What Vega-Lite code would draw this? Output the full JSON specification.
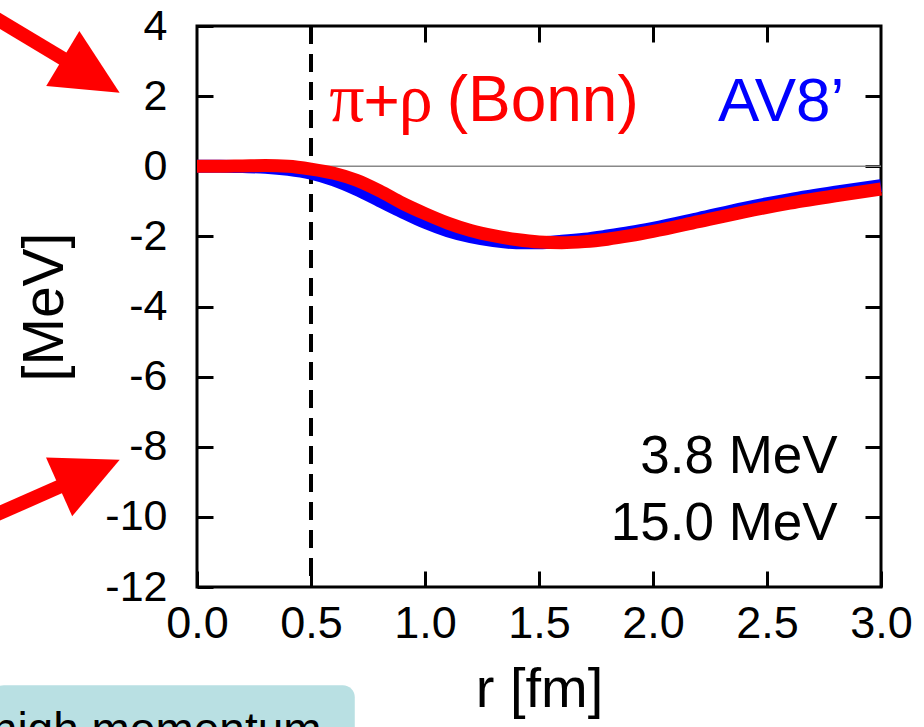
{
  "$schema": "https://vega.github.io/schema/vega-lite/v6.json",
  "width": 684,
  "height": 561,
  "autosize": {"type": "none"},
  "padding": {"left": 197, "top": 26, "right": 43, "bottom": 140},
  "background": "white",
  "config": {
    "font": "Liberation Sans",
    "view": {"stroke": "black", "strokeWidth": 3}
  },
  "datasets": {
    "one": [{}],
    "curves": [
      {"s": "av8", "r": 0.0, "v": 0.0}, {"s": "av8", "r": 0.1, "v": 0.0}, {"s": "av8", "r": 0.2, "v": -0.01},
      {"s": "av8", "r": 0.3, "v": -0.03}, {"s": "av8", "r": 0.4, "v": -0.09}, {"s": "av8", "r": 0.5, "v": -0.2},
      {"s": "av8", "r": 0.6, "v": -0.39}, {"s": "av8", "r": 0.7, "v": -0.66}, {"s": "av8", "r": 0.8, "v": -0.98},
      {"s": "av8", "r": 0.9, "v": -1.3}, {"s": "av8", "r": 1.0, "v": -1.6}, {"s": "av8", "r": 1.1, "v": -1.84},
      {"s": "av8", "r": 1.2, "v": -2.01}, {"s": "av8", "r": 1.3, "v": -2.12}, {"s": "av8", "r": 1.4, "v": -2.18},
      {"s": "av8", "r": 1.5, "v": -2.18}, {"s": "av8", "r": 1.6, "v": -2.14}, {"s": "av8", "r": 1.7, "v": -2.08},
      {"s": "av8", "r": 1.8, "v": -1.99}, {"s": "av8", "r": 1.9, "v": -1.89}, {"s": "av8", "r": 2.0, "v": -1.77},
      {"s": "av8", "r": 2.2, "v": -1.49}, {"s": "av8", "r": 2.4, "v": -1.2}, {"s": "av8", "r": 2.6, "v": -0.95},
      {"s": "av8", "r": 2.8, "v": -0.74}, {"s": "av8", "r": 3.0, "v": -0.55},
      {"s": "bonn", "r": 0.0, "v": 0.0}, {"s": "bonn", "r": 0.1, "v": 0.0}, {"s": "bonn", "r": 0.2, "v": 0.01},
      {"s": "bonn", "r": 0.3, "v": 0.02}, {"s": "bonn", "r": 0.4, "v": 0.0}, {"s": "bonn", "r": 0.5, "v": -0.08},
      {"s": "bonn", "r": 0.6, "v": -0.2}, {"s": "bonn", "r": 0.7, "v": -0.4}, {"s": "bonn", "r": 0.8, "v": -0.7},
      {"s": "bonn", "r": 0.9, "v": -1.05}, {"s": "bonn", "r": 1.0, "v": -1.35}, {"s": "bonn", "r": 1.1, "v": -1.62},
      {"s": "bonn", "r": 1.2, "v": -1.83}, {"s": "bonn", "r": 1.3, "v": -1.98}, {"s": "bonn", "r": 1.4, "v": -2.09},
      {"s": "bonn", "r": 1.5, "v": -2.16}, {"s": "bonn", "r": 1.6, "v": -2.18}, {"s": "bonn", "r": 1.7, "v": -2.15},
      {"s": "bonn", "r": 1.8, "v": -2.08}, {"s": "bonn", "r": 1.9, "v": -1.98}, {"s": "bonn", "r": 2.0, "v": -1.86},
      {"s": "bonn", "r": 2.2, "v": -1.58}, {"s": "bonn", "r": 2.4, "v": -1.3}, {"s": "bonn", "r": 2.6, "v": -1.05},
      {"s": "bonn", "r": 2.8, "v": -0.84}, {"s": "bonn", "r": 3.0, "v": -0.65}
    ],
    "arrows": [
      {"a": 1, "r": -0.885, "v": 4.227}, {"a": 1, "r": -0.578, "v": 3.029},
      {"a": 2, "r": -0.885, "v": -9.949}, {"a": 2, "r": -0.593, "v": -9.107}
    ],
    "heads": [
      {"a": 1, "r": -0.464, "v": 2.587, "ang": 31},
      {"a": 2, "r": -0.472, "v": -8.758, "ang": -24}
    ]
  },
  "layer": [
    {
      "data": {"name": "one"},
      "mark": {"type": "rect", "color": "#b9e0e3", "cornerRadius": 12},
      "encoding": {
        "x": {"datum": -0.9, "type": "quantitative", "scale": {"domain": [0, 3], "nice": false}, "axis": null},
        "x2": {"datum": 0.692},
        "y": {"datum": -14.8, "type": "quantitative", "scale": {"domain": [-12, 4], "nice": false}, "axis": null},
        "y2": {"datum": -16.8}
      }
    },
    {
      "data": {"name": "one"},
      "mark": {"type": "text", "align": "left", "baseline": "alphabetic", "fontSize": 46, "color": "black"},
      "encoding": {
        "x": {"datum": -0.9, "type": "quantitative", "axis": null},
        "y": {"datum": -16.5, "type": "quantitative", "axis": null},
        "text": {"value": "high momentum"}
      }
    },
    {
      "data": {"name": "one"},
      "mark": {"type": "rule", "color": "#888888", "strokeWidth": 1.5},
      "encoding": {"y": {"datum": 0, "type": "quantitative", "axis": null}}
    },
    {
      "data": {"name": "one"},
      "mark": {"type": "rule", "color": "black", "strokeWidth": 4, "strokeDash": [18, 10]},
      "encoding": {"x": {"datum": 0.5, "type": "quantitative", "axis": null}}
    },
    {
      "data": {"name": "curves"},
      "transform": [{"filter": "datum.s == 'av8'"}],
      "mark": {"type": "line", "color": "#0000ff", "strokeWidth": 13, "interpolate": "monotone"},
      "encoding": {
        "x": {
          "field": "r", "type": "quantitative",
          "axis": {
            "orient": "bottom", "title": "r [fm]", "values": [0, 0.5, 1, 1.5, 2, 2.5, 3], "format": ".1f",
            "domain": false, "tickColor": "black", "tickWidth": 3, "tickSize": -16,
            "labelFontSize": 45, "labelColor": "black", "labelPadding": 30, "labelFlush": false,
            "titleFontSize": 56, "titleFontWeight": "normal", "titleColor": "black", "titlePadding": 16, "grid": false
          }
        },
        "y": {
          "field": "v", "type": "quantitative",
          "axis": {
            "orient": "left", "title": "[MeV]", "values": [-12, -10, -8, -6, -4, -2, 0, 2, 4],
            "labelExpr": "toString(datum.value)",
            "domain": false, "tickColor": "black", "tickWidth": 3, "tickSize": -16,
            "labelFontSize": 43, "labelColor": "black", "labelPadding": 46,
            "titleFontSize": 57, "titleFontWeight": "normal", "titleColor": "black", "titlePadding": 30, "grid": false
          }
        }
      }
    },
    {
      "data": {"name": "curves"},
      "transform": [{"filter": "datum.s == 'bonn'"}],
      "mark": {"type": "line", "color": "#ff0000", "strokeWidth": 13, "interpolate": "monotone"},
      "encoding": {
        "x": {
          "field": "r", "type": "quantitative",
          "axis": {
            "orient": "top", "title": null, "values": [0.5, 1, 1.5, 2, 2.5], "labels": false,
            "domain": false, "tickColor": "black", "tickWidth": 3, "tickSize": -16, "grid": false
          }
        },
        "y": {
          "field": "v", "type": "quantitative",
          "axis": {
            "orient": "right", "title": null, "values": [-10, -8, -6, -4, -2, 0, 2], "labels": false,
            "domain": false, "tickColor": "black", "tickWidth": 3, "tickSize": -16, "grid": false
          }
        }
      }
    },
    {
      "data": {"name": "arrows"},
      "mark": {"type": "line", "color": "#ff0000", "strokeWidth": 14, "strokeCap": "butt"},
      "encoding": {
        "x": {"field": "r", "type": "quantitative", "axis": null},
        "y": {"field": "v", "type": "quantitative", "axis": null},
        "detail": {"field": "a"}
      }
    },
    {
      "data": {"name": "heads"},
      "mark": {"type": "point", "shape": "M1,0L-1,-0.97L-1,0.97Z", "filled": true, "color": "#ff0000", "opacity": 1, "size": 4400},
      "encoding": {
        "x": {"field": "r", "type": "quantitative", "axis": null},
        "y": {"field": "v", "type": "quantitative", "axis": null},
        "angle": {"field": "ang", "type": "quantitative", "scale": null}
      }
    },
    {
      "data": {"name": "one"},
      "mark": {"type": "text", "align": "left", "baseline": "alphabetic", "fontSize": 70, "font": "Liberation Serif", "color": "#ff0000"},
      "encoding": {
        "x": {"datum": 0.58, "type": "quantitative", "axis": null},
        "y": {"datum": 1.29, "type": "quantitative", "axis": null},
        "text": {"value": "π"}
      }
    },
    {
      "data": {"name": "one"},
      "mark": {"type": "text", "align": "left", "baseline": "alphabetic", "fontSize": 62, "color": "#ff0000"},
      "encoding": {
        "x": {"datum": 0.73, "type": "quantitative", "axis": null},
        "y": {"datum": 1.29, "type": "quantitative", "axis": null},
        "text": {"value": "+"}
      }
    },
    {
      "data": {"name": "one"},
      "mark": {"type": "text", "align": "left", "baseline": "alphabetic", "fontSize": 68, "font": "Liberation Serif", "color": "#ff0000"},
      "encoding": {
        "x": {"datum": 0.885, "type": "quantitative", "axis": null},
        "y": {"datum": 1.29, "type": "quantitative", "axis": null},
        "text": {"value": "ρ"}
      }
    },
    {
      "data": {"name": "one"},
      "mark": {"type": "text", "align": "left", "baseline": "alphabetic", "fontSize": 64, "color": "#ff0000"},
      "encoding": {
        "x": {"datum": 1.095, "type": "quantitative", "axis": null},
        "y": {"datum": 1.29, "type": "quantitative", "axis": null},
        "text": {"value": "(Bonn)"}
      }
    },
    {
      "data": {"name": "one"},
      "mark": {"type": "text", "align": "left", "baseline": "alphabetic", "fontSize": 62, "color": "#0000ff"},
      "encoding": {
        "x": {"datum": 2.285, "type": "quantitative", "axis": null},
        "y": {"datum": 1.29, "type": "quantitative", "axis": null},
        "text": {"value": "AV8’"}
      }
    },
    {
      "data": {"name": "one"},
      "mark": {"type": "text", "align": "right", "baseline": "alphabetic", "fontSize": 53, "color": "black"},
      "encoding": {
        "x": {"datum": 2.81, "type": "quantitative", "axis": null},
        "y": {"datum": -8.75, "type": "quantitative", "axis": null},
        "text": {"value": "3.8 MeV"}
      }
    },
    {
      "data": {"name": "one"},
      "mark": {"type": "text", "align": "right", "baseline": "alphabetic", "fontSize": 53, "color": "black"},
      "encoding": {
        "x": {"datum": 2.81, "type": "quantitative", "axis": null},
        "y": {"datum": -10.66, "type": "quantitative", "axis": null},
        "text": {"value": "15.0 MeV"}
      }
    }
  ],
  "resolve": {"axis": {"x": "independent", "y": "independent"}}
}
